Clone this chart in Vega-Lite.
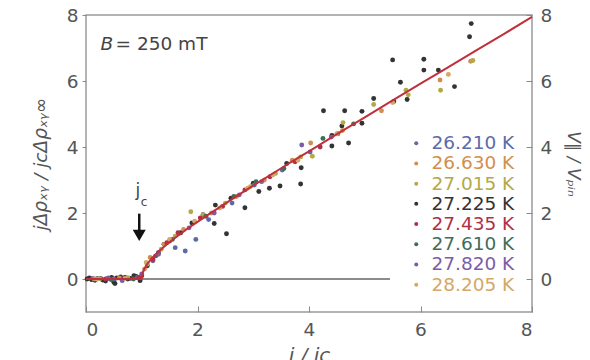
{
  "$schema": "https://vega.github.io/schema/vega-lite/v6.json",
  "width": 446,
  "height": 297,
  "autosize": {"type": "none"},
  "padding": {"left": 86, "top": 15, "right": 58, "bottom": 48},
  "background": "white",
  "config": {
    "view": {"stroke": "#9a9a9a", "strokeWidth": 1.5},
    "font": "DejaVu Sans",
    "axis": {"labelColor": "#555555", "titleColor": "#555555", "tickColor": "#8a8a8a", "grid": false, "domain": false, "labelFontSize": 18.5, "labelFont": "DejaVu Sans"}
  },
  "datasets": {
    "pts": [
      {"T": "27.225 K", "x": 0.02, "y": 0.0}, {"T": "27.225 K", "x": 0.1, "y": -0.02}, {"T": "27.225 K", "x": 0.2, "y": 0.01}, {"T": "27.225 K", "x": 0.3, "y": -0.03}, {"T": "27.225 K", "x": 0.4, "y": 0.02}, {"T": "27.225 K", "x": 0.5, "y": -0.1}, {"T": "27.225 K", "x": 0.55, "y": 0.03}, {"T": "27.225 K", "x": 0.7, "y": 0.05}, {"T": "27.225 K", "x": 0.8, "y": 0.02}, {"T": "27.225 K", "x": 0.9, "y": 0.08}, {"T": "27.225 K", "x": 1.0, "y": 0.1}, {"T": "27.225 K", "x": 1.1, "y": 0.4}, {"T": "27.225 K", "x": 1.3, "y": 0.8}, {"T": "27.225 K", "x": 1.5, "y": 1.15}, {"T": "27.225 K", "x": 1.7, "y": 1.4}, {"T": "27.225 K", "x": 2.32, "y": 2.24}, {"T": "27.225 K", "x": 2.3, "y": 1.68}, {"T": "27.225 K", "x": 2.52, "y": 1.37}, {"T": "27.225 K", "x": 2.85, "y": 2.16}, {"T": "27.225 K", "x": 3.1, "y": 2.65}, {"T": "27.225 K", "x": 3.29, "y": 2.75}, {"T": "27.225 K", "x": 3.48, "y": 2.82}, {"T": "27.225 K", "x": 3.85, "y": 2.88}, {"T": "27.225 K", "x": 3.86, "y": 3.37}, {"T": "27.225 K", "x": 4.26, "y": 5.1}, {"T": "27.225 K", "x": 4.64, "y": 5.1}, {"T": "27.225 K", "x": 4.41, "y": 4.03}, {"T": "27.225 K", "x": 4.71, "y": 4.12}, {"T": "27.225 K", "x": 4.41, "y": 4.35}, {"T": "27.225 K", "x": 4.95, "y": 5.08}, {"T": "27.225 K", "x": 4.95, "y": 4.72}, {"T": "27.225 K", "x": 5.16, "y": 5.47}, {"T": "27.225 K", "x": 4.59, "y": 4.64}, {"T": "27.225 K", "x": 5.52, "y": 5.38}, {"T": "27.225 K", "x": 5.5, "y": 6.64}, {"T": "27.225 K", "x": 5.64, "y": 5.96}, {"T": "27.225 K", "x": 6.06, "y": 6.66}, {"T": "27.225 K", "x": 6.06, "y": 6.33}, {"T": "27.225 K", "x": 6.32, "y": 6.33}, {"T": "27.225 K", "x": 6.61, "y": 5.83}, {"T": "27.225 K", "x": 6.91, "y": 7.74}, {"T": "27.225 K", "x": 6.88, "y": 7.34}, {"T": "27.225 K", "x": 5.76, "y": 5.44}, {"T": "27.225 K", "x": 2.6, "y": 2.45}, {"T": "27.225 K", "x": 3.0, "y": 2.9},
      {"T": "27.225 K", "x": 0.06, "y": 0.03}, {"T": "27.225 K", "x": 0.16, "y": -0.04}, {"T": "27.225 K", "x": 0.26, "y": 0.02}, {"T": "27.225 K", "x": 0.35, "y": -0.06}, {"T": "27.225 K", "x": 0.46, "y": 0.05}, {"T": "27.225 K", "x": 0.52, "y": -0.14}, {"T": "27.225 K", "x": 0.62, "y": 0.06}, {"T": "27.225 K", "x": 0.75, "y": 0.0}, {"T": "27.225 K", "x": 0.86, "y": 0.1}, {"T": "27.225 K", "x": 0.97, "y": -0.05}, {"T": "27.225 K", "x": 1.4, "y": 1.05}, {"T": "27.225 K", "x": 1.9, "y": 1.7}, {"T": "27.225 K", "x": 2.1, "y": 1.95}, {"T": "27.225 K", "x": 3.6, "y": 3.5},
      {"T": "26.210 K", "x": 0.12, "y": 0.02}, {"T": "26.210 K", "x": 0.5, "y": 0.0}, {"T": "26.210 K", "x": 0.92, "y": 0.05}, {"T": "26.210 K", "x": 1.2, "y": 0.55}, {"T": "26.210 K", "x": 1.6, "y": 0.95}, {"T": "26.210 K", "x": 1.78, "y": 0.85}, {"T": "26.210 K", "x": 1.97, "y": 1.2}, {"T": "26.210 K", "x": 2.2, "y": 1.8}, {"T": "26.210 K", "x": 2.62, "y": 2.3}, {"T": "26.210 K", "x": 3.02, "y": 2.85}, {"T": "26.210 K", "x": 3.52, "y": 3.3}, {"T": "26.210 K", "x": 4.02, "y": 3.85}, {"T": "26.210 K", "x": 4.52, "y": 4.4},
      {"T": "26.630 K", "x": 0.15, "y": 0.0}, {"T": "26.630 K", "x": 0.6, "y": 0.03}, {"T": "26.630 K", "x": 1.05, "y": 0.3}, {"T": "26.630 K", "x": 1.15, "y": 0.65}, {"T": "26.630 K", "x": 1.4, "y": 1.05}, {"T": "26.630 K", "x": 1.75, "y": 1.5}, {"T": "26.630 K", "x": 2.25, "y": 2.0}, {"T": "26.630 K", "x": 2.7, "y": 2.5}, {"T": "26.630 K", "x": 3.2, "y": 3.0}, {"T": "26.630 K", "x": 3.7, "y": 3.6}, {"T": "26.630 K", "x": 4.03, "y": 4.12}, {"T": "26.630 K", "x": 4.6, "y": 4.5}, {"T": "26.630 K", "x": 5.3, "y": 5.1}, {"T": "26.630 K", "x": 6.35, "y": 6.03}, {"T": "26.630 K", "x": 6.9, "y": 6.6},
      {"T": "27.015 K", "x": 0.25, "y": 0.01}, {"T": "27.015 K", "x": 0.75, "y": 0.04}, {"T": "27.015 K", "x": 1.1, "y": 0.45}, {"T": "27.015 K", "x": 1.35, "y": 0.9}, {"T": "27.015 K", "x": 1.6, "y": 1.3}, {"T": "27.015 K", "x": 1.88, "y": 2.04}, {"T": "27.015 K", "x": 2.1, "y": 1.95}, {"T": "27.015 K", "x": 2.5, "y": 2.3}, {"T": "27.015 K", "x": 2.95, "y": 2.8}, {"T": "27.015 K", "x": 3.4, "y": 3.2}, {"T": "27.015 K", "x": 3.85, "y": 3.7}, {"T": "27.015 K", "x": 4.06, "y": 3.72}, {"T": "27.015 K", "x": 4.61, "y": 4.74}, {"T": "27.015 K", "x": 5.16, "y": 5.29}, {"T": "27.015 K", "x": 5.74, "y": 5.72}, {"T": "27.015 K", "x": 5.78, "y": 5.58}, {"T": "27.015 K", "x": 6.36, "y": 5.72}, {"T": "27.015 K", "x": 6.94, "y": 6.62},
      {"T": "27.435 K", "x": 0.35, "y": 0.0}, {"T": "27.435 K", "x": 0.95, "y": 0.05}, {"T": "27.435 K", "x": 1.2, "y": 0.6}, {"T": "27.435 K", "x": 1.45, "y": 1.1}, {"T": "27.435 K", "x": 1.65, "y": 1.4}, {"T": "27.435 K", "x": 2.05, "y": 1.85}, {"T": "27.435 K", "x": 2.45, "y": 2.2}, {"T": "27.435 K", "x": 2.85, "y": 2.7}, {"T": "27.435 K", "x": 3.3, "y": 3.1}, {"T": "27.435 K", "x": 3.75, "y": 3.55}, {"T": "27.435 K", "x": 4.2, "y": 4.0},
      {"T": "27.610 K", "x": 0.45, "y": -0.02}, {"T": "27.610 K", "x": 0.85, "y": 0.0}, {"T": "27.610 K", "x": 1.25, "y": 0.7}, {"T": "27.610 K", "x": 1.55, "y": 1.2}, {"T": "27.610 K", "x": 2.15, "y": 1.9}, {"T": "27.610 K", "x": 2.65, "y": 2.5}, {"T": "27.610 K", "x": 3.05, "y": 2.95}, {"T": "27.610 K", "x": 3.55, "y": 3.35}, {"T": "27.610 K", "x": 4.25, "y": 4.26}, {"T": "27.610 K", "x": 4.8, "y": 4.7},
      {"T": "27.820 K", "x": 0.4, "y": 0.03}, {"T": "27.820 K", "x": 0.65, "y": -0.05}, {"T": "27.820 K", "x": 1.0, "y": 0.15}, {"T": "27.820 K", "x": 1.3, "y": 0.75}, {"T": "27.820 K", "x": 1.85, "y": 1.55}, {"T": "27.820 K", "x": 2.3, "y": 2.0}, {"T": "27.820 K", "x": 2.75, "y": 2.55}, {"T": "27.820 K", "x": 3.15, "y": 2.95}, {"T": "27.820 K", "x": 3.87, "y": 4.06}, {"T": "27.820 K", "x": 4.4, "y": 4.3},
      {"T": "28.205 K", "x": 0.2, "y": -0.01}, {"T": "28.205 K", "x": 0.7, "y": 0.02}, {"T": "28.205 K", "x": 1.08, "y": 0.5}, {"T": "28.205 K", "x": 1.5, "y": 1.2}, {"T": "28.205 K", "x": 1.95, "y": 1.75}, {"T": "28.205 K", "x": 2.4, "y": 2.15}, {"T": "28.205 K", "x": 2.9, "y": 2.75}, {"T": "28.205 K", "x": 3.35, "y": 3.15}, {"T": "28.205 K", "x": 3.8, "y": 3.6}, {"T": "28.205 K", "x": 4.5, "y": 4.4}, {"T": "28.205 K", "x": 5.5, "y": 5.35}, {"T": "28.205 K", "x": 6.5, "y": 6.2}
    ],
    "curve": [
      {"x": 0, "y": 0}, {"x": 1.0, "y": 0}, {"x": 1.02, "y": 0.2}, {"x": 1.05, "y": 0.32}, {"x": 1.1, "y": 0.46}, {"x": 1.2, "y": 0.66}, {"x": 1.3, "y": 0.83}, {"x": 1.4, "y": 0.98}, {"x": 1.5, "y": 1.12}, {"x": 1.6, "y": 1.25}, {"x": 1.7, "y": 1.37}, {"x": 1.8, "y": 1.5}, {"x": 1.9, "y": 1.62}, {"x": 2.0, "y": 1.73}, {"x": 2.2, "y": 1.96}, {"x": 2.4, "y": 2.18}, {"x": 2.6, "y": 2.4}, {"x": 2.8, "y": 2.62}, {"x": 3.0, "y": 2.83}, {"x": 3.4, "y": 3.25}, {"x": 3.8, "y": 3.67}, {"x": 4.0, "y": 3.87}, {"x": 4.5, "y": 4.39}, {"x": 5.0, "y": 4.9}, {"x": 5.5, "y": 5.41}, {"x": 6.0, "y": 5.92}, {"x": 6.5, "y": 6.42}, {"x": 7.0, "y": 6.93}, {"x": 7.5, "y": 7.43}, {"x": 8.0, "y": 7.94}
    ],
    "notes": [{"a": "B", "b": "= 250 mT", "j": "j", "c": "c"}]
  },
  "resolve": {"axis": {"y": "independent"}},
  "layer": [
    {
      "data": {"name": "curve"},
      "mark": {"type": "rule", "color": "#8c8c8c", "strokeWidth": 1.5},
      "encoding": {
        "x": {"datum": 0, "type": "quantitative", "scale": {"domain": [0, 8]}, "axis": {"orient": "bottom", "values": [0, 2, 4, 6, 8], "tickSize": -6, "labelPadding": 14, "title": "j / jc", "titleFontSize": 20, "titleFontStyle": "italic", "titleFontWeight": "normal", "titlePadding": 7, "format": "d"}},
        "x2": {"datum": 5.45},
        "y": {"datum": 0, "type": "quantitative", "scale": {"domain": [-1, 8], "nice": false}, "axis": {"orient": "right", "values": [0, 2, 4, 6, 8], "tickSize": -6, "labelPadding": 14, "title": "V∥ / Vₚᵢₙ", "titleFontSize": 17, "titleFontWeight": "normal", "titleFontStyle": "italic", "titlePadding": 12, "format": "d"}}
      }
    },
    {
      "data": {"name": "pts"},
      "mark": {"type": "point", "filled": true, "opacity": 1, "size": 24},
      "encoding": {
        "x": {"field": "x", "type": "quantitative"},
        "y": {"field": "y", "type": "quantitative", "axis": {"orient": "left", "values": [0, 2, 4, 6, 8], "tickSize": 4, "labelPadding": 4, "title": "jΔρₓᵧ / jcΔρₓᵧ∞", "titleFontSize": 18.5, "titleFontWeight": "normal", "titleFontStyle": "italic", "titlePadding": 16, "format": "d"}},
        "color": {
          "field": "T", "type": "nominal",
          "scale": {"domain": ["26.210 K", "26.630 K", "27.015 K", "27.225 K", "27.435 K", "27.610 K", "27.820 K", "28.205 K"], "range": ["#5b6aa8", "#d08f50", "#b3a948", "#333333", "#b03048", "#3e6e58", "#7c5ca8", "#d4a868"]},
          "legend": {"orient": "none", "legendX": 321, "legendY": 119, "title": null, "labelFontSize": 18.5, "labelFont": "DejaVu Sans", "symbolSize": 16, "symbolType": "circle", "rowPadding": 1.2, "labelOffset": 6, "padding": 0,
            "labelColor": {"expr": "scale('color', datum.value)"}}
        }
      }
    },
    {
      "data": {"name": "curve"},
      "mark": {"type": "line", "color": "#c0303c", "strokeWidth": 2},
      "encoding": {
        "x": {"field": "x", "type": "quantitative"},
        "y": {"field": "y", "type": "quantitative", "axis": null}
      }
    },
    {
      "data": {"name": "notes"},
      "mark": {"type": "text", "font": "DejaVu Sans", "fontSize": 18.5, "fontStyle": "italic", "align": "left", "baseline": "middle", "color": "#444444"},
      "encoding": {"text": {"field": "a"}, "x": {"datum": 0.26}, "y": {"datum": 7.12, "axis": null}}
    },
    {
      "data": {"name": "notes"},
      "mark": {"type": "text", "font": "DejaVu Sans", "fontSize": 18.5, "align": "left", "baseline": "middle", "color": "#444444"},
      "encoding": {"text": {"field": "b"}, "x": {"datum": 0.53}, "y": {"datum": 7.12, "axis": null}}
    },
    {
      "data": {"name": "notes"},
      "mark": {"type": "text", "font": "DejaVu Sans", "fontSize": 17, "align": "center", "baseline": "middle", "color": "#444444"},
      "encoding": {"text": {"field": "j"}, "x": {"datum": 0.93}, "y": {"datum": 2.68, "axis": null}}
    },
    {
      "data": {"name": "notes"},
      "mark": {"type": "text", "font": "DejaVu Sans", "fontSize": 12, "align": "center", "baseline": "middle", "color": "#444444"},
      "encoding": {"text": {"field": "c"}, "x": {"datum": 1.04}, "y": {"datum": 2.32, "axis": null}}
    },
    {
      "data": {"name": "notes"},
      "mark": {"type": "rule", "color": "#111111", "strokeWidth": 2.5},
      "encoding": {"x": {"datum": 0.955}, "y": {"datum": 1.98, "axis": null}, "y2": {"datum": 1.4}}
    },
    {
      "data": {"name": "notes"},
      "mark": {"type": "point", "shape": "triangle-down", "filled": true, "color": "#111111", "opacity": 1, "size": 170},
      "encoding": {"x": {"datum": 0.955}, "y": {"datum": 1.32, "axis": null}}
    }
  ]
}
